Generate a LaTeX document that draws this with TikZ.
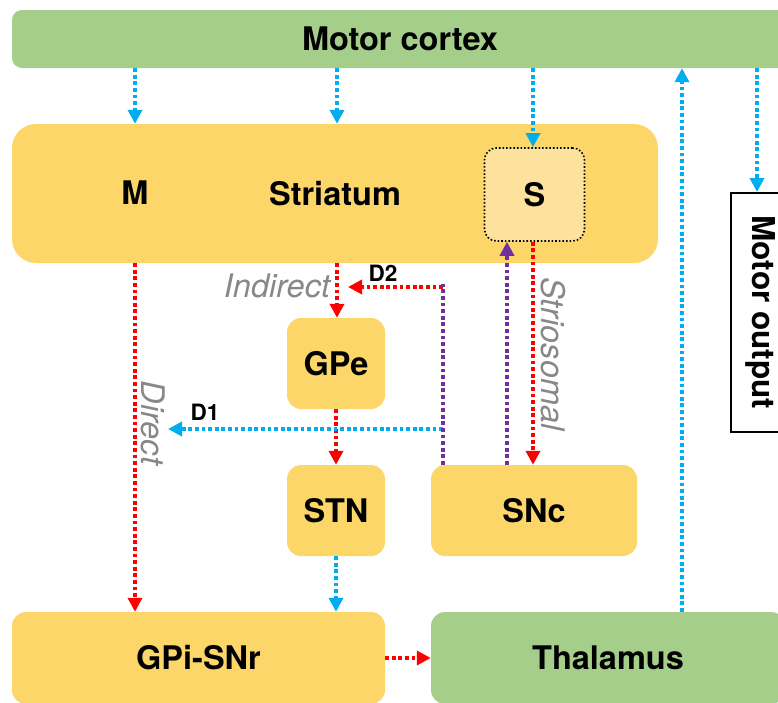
\documentclass[tikz,border=0pt]{standalone}
\usepackage{fontspec}
\setmainfont{TeX Gyre Heros}
\usetikzlibrary{arrows.meta}
\definecolor{cgreen}{HTML}{A5CE8B}
\definecolor{cyellow}{HTML}{FDD66A}
\definecolor{clight}{HTML}{FCE29C}
\definecolor{cblue}{HTML}{00AEEF}
\definecolor{cred}{HTML}{FF0000}
\definecolor{cpurple}{HTML}{7030A0}
\definecolor{cgray}{HTML}{888888}
\tikzset{
  box/.style={fill=cyellow, rounded corners=14pt, inner sep=0pt, font=\fontsize{32.5}{36}\selectfont\bfseries},
  gbox/.style={fill=cgreen, rounded corners=14pt, inner sep=0pt, font=\fontsize{32.5}{36}\selectfont\bfseries},
  lbl/.style={inner sep=0pt, font=\fontsize{32.5}{36}\selectfont\bfseries},
  path lbl/.style={inner sep=0pt, text=cgray, font=\fontsize{32.5}{36}\selectfont\itshape},
  small lbl/.style={inner sep=0pt, font=\fontsize{22.5}{26}\selectfont\bfseries},
  conn/.style={line width=3.8pt, dash pattern=on 3.8pt off 2.8pt, -{Triangle[width=14pt,length=14pt]}},
  bconn/.style={conn, cblue},
  rconn/.style={conn, cred},
  pconn/.style={conn, cpurple},
}
\begin{document}
\begin{tikzpicture}[x=1pt,y=-1pt]
\useasboundingbox (0,0) rectangle (778,702);
\clip (0,0) rectangle (778,702);
% boxes
\node[gbox, rounded corners=10pt, minimum width=776pt, minimum height=58pt] (cortex) at (400,39) {Motor cortex};
\node[box, rounded corners=24pt, minimum width=646pt, minimum height=139pt] (striatum) at (335,193.5) {Striatum};
\node[lbl] (mlab) at (135,193) {M};
\node[fill=clight, draw=black, line width=1.6pt, dotted, rounded corners=12pt, minimum width=100pt, minimum height=93pt, inner sep=0pt, font=\fontsize{32.5}{36}\selectfont\bfseries] (S) at (534.5,194.5) {S};
\node[box, minimum width=98pt, minimum height=91pt] (gpe) at (336,363.5) {GPe};
\node[box, minimum width=98pt, minimum height=91pt] (stn) at (336,510.5) {STN};
\node[box, minimum width=206pt, minimum height=91pt] (snc) at (534,510.5) {SNc};
\node[box, minimum width=373pt, minimum height=92pt] (gpi) at (198.5,658) {GPi-SNr};
\node[gbox, minimum width=354pt, minimum height=92pt] (thal) at (608,658) {Thalamus};
\node[draw=black, line width=2pt, fill=white, minimum width=59pt, minimum height=239pt, inner sep=0pt, font=\fontsize{31.5}{34}\selectfont\bfseries] (mo) at (760.5,312.5) {\rotatebox{-90}{Motor output}};
% labels
\node[path lbl] (indirect) at (277,286) {Indirect};
\node[path lbl, rotate=-90] (direct) at (153,423) {Direct};
\node[path lbl, rotate=-90] (strio) at (553,354) {Striosomal};
\node[small lbl] (d2) at (383,273) {D2};
\node[small lbl] (d1) at (205,412) {D1};
% helper coordinates
\coordinate (xs) at (337,0);
\coordinate (xup) at (682,0);
\coordinate (xmo) at (757,0);
\coordinate (xpS) at (507,0);
\coordinate (xrS) at (533,0);
\coordinate (corner) at (443,287);
\coordinate (d2end) at (348,287);
\coordinate (d1start) at (443,429);
\coordinate (d1end) at (168,429);
% cortex outputs
\draw[bconn] (cortex.south -| mlab) -- (striatum.north -| mlab);
\draw[bconn] (cortex.south -| xs) -- (striatum.north -| xs);
\draw[bconn] (cortex.south -| xrS) -- (S.north -| xrS);
\draw[bconn] (cortex.south -| xmo) -- (mo.north -| xmo);
\draw[bconn] (thal.north -| xup) -- (cortex.south -| xup);
% pathways
\draw[rconn] (striatum.south -| mlab) -- (gpi.north -| mlab);
\draw[rconn] (striatum.south -| xs) -- (gpe.north -| xs);
\draw[rconn] (gpe.south) -- (stn.north);
\draw[bconn] (stn.south) -- (gpi.north -| stn.south);
\draw[rconn] (gpi.east) -- (thal.west);
\draw[rconn] (S.south -| xrS) -- (snc.north -| xrS);
\draw[pconn] (snc.north -| xpS) -- (S.south -| xpS);
% dopamine
\draw[bconn] (d1start) -- (d1end);
\draw[rconn] (corner) -- (d2end);
\draw[cpurple, line width=3.8pt, dash pattern=on 3.8pt off 2.8pt] (snc.north -| corner) -- ([yshift=3pt]corner);
\end{tikzpicture}
\end{document}
